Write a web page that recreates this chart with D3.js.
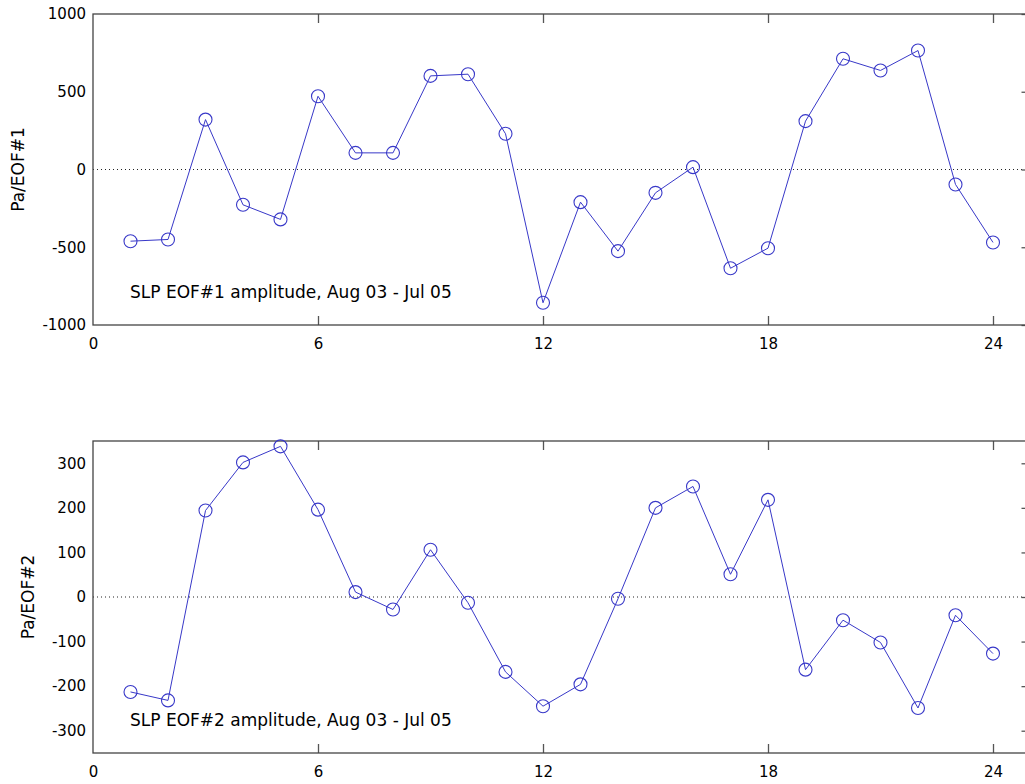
<!DOCTYPE html>
<html>
<head>
<meta charset="utf-8">
<script src="https://cdn.jsdelivr.net/npm/d3@7"></script>
<style>
	body { margin:0; background:#fff; }
	svg { display:block; }
	.box { fill:none; stroke:#444; stroke-width:1.3; }
	.tick line { stroke:#555; stroke-width:1.3; }
	.tick text { fill:#000; font-size:15px; font-family:"DejaVu Sans", sans-serif; }
	.lbl { fill:#000; font-family:"DejaVu Sans", sans-serif; }
	.zero { stroke:#222; stroke-width:1; stroke-dasharray:1,3; }
	.series { fill:none; stroke:#3838c8; stroke-width:1; }
	.marker { fill:none; stroke:#3838c8; stroke-width:1.1; }
</style>
</head>
<body>
<script>
// months since Aug 03
var months = d3.range(1, 25);
var eof1 = [-461, -450, 321, -227, -321, 471, 107, 107, 602, 613, 230, -857,
	-210, -525, -150, 15, -635, -506, 311, 712, 637, 765, -96, -469];
var eof2 = [-213, -232, 194, 302, 338, 196, 11, -28, 106, -13, -168, -245,
	-196, -4, 200, 248, 51, 218, -163, -52, -102, -249, -41, -127];
var xTicks = [0, 6, 12, 18, 24];
var yTicks1 = [-1000, -500, 0, 500, 1000];
var yTicks2 = [-300, -200, -100, 0, 100, 200, 300];
var labels = ["SLP EOF#1 amplitude, Aug 03 - Jul 05", "SLP EOF#2 amplitude, Aug 03 - Jul 05"];
var yTitles = ["Pa/EOF#1", "Pa/EOF#2"];

window.onload = function () {
	var width = 1025, height = 784;
	var left = 93, right = 1030.5;
	var fmt = function (d) { return String(d); }; // plain hyphen minus, no thousands comma

	var svg = d3.select("body").append("svg").attr("width", width).attr("height", height);

	var x = d3.scaleLinear().domain([0, 25]).range([left, right]);

	drawPanel(eof1, [-1000, 1000], yTicks1, 14, 325, labels[0], yTitles[0], 18);
	drawPanel(eof2, [-350, 350], yTicks2, 441, 753, labels[1], yTitles[1], 28);

	function drawPanel(vals, dom, yt, top, bottom, label, title, titleX) {
		var y = d3.scaleLinear().domain(dom).range([bottom, top]);
		var g = svg.append("g");

		// zero line
		g.append("line").attr("class", "zero")
			.attr("x1", x(0)).attr("x2", x(25)).attr("y1", y(0)).attr("y2", y(0));

		var xb = g.append("g").attr("transform", "translate(0," + bottom + ")")
			.call(d3.axisBottom(x).tickValues(xTicks).tickSize(-9).tickPadding(13).tickFormat(fmt));
		var xt = g.append("g").attr("transform", "translate(0," + top + ")")
			.call(d3.axisTop(x).tickValues(xTicks).tickSize(-9).tickFormat(""));
		g.append("g").attr("transform", "translate(" + left + ",0)")
			.call(d3.axisLeft(y).tickValues(yt).tickSize(0).tickPadding(7).tickFormat(fmt));
		g.append("g").attr("transform", "translate(" + right + ",0)")
			.call(d3.axisRight(y).tickValues(yt).tickSize(-9).tickFormat(""));
		g.selectAll(".domain").remove();
		// no tick mark at x=0, it sits on the frame
		[xb, xt].forEach(function (a) {
			a.selectAll(".tick").filter(function (d) { return d === 0; }).select("line").remove();
		});

		g.append("rect").attr("class", "box")
			.attr("x", left).attr("y", top).attr("width", right - left).attr("height", bottom - top);

		var line = d3.line().x(function (d, i) { return x(months[i]); }).y(function (d) { return y(d); });
		g.append("path").attr("class", "series").attr("d", line(vals));

		g.selectAll(".marker").data(vals).enter().append("circle").attr("class", "marker")
			.attr("cx", function (d, i) { return x(months[i]); })
			.attr("cy", function (d) { return y(d); })
			.attr("r", 6.5);

		g.append("text").attr("class", "lbl").attr("x", 130).attr("y", bottom - 27)
			.style("font-size", "17px").text(label);

		g.append("text").attr("class", "lbl")
			.attr("transform", "translate(" + (titleX + 6) + "," + ((top + bottom) / 2) + ") rotate(-90)")
			.attr("text-anchor", "middle").style("font-size", "17px").text(title);
	}
};
</script>
</body>
</html>
